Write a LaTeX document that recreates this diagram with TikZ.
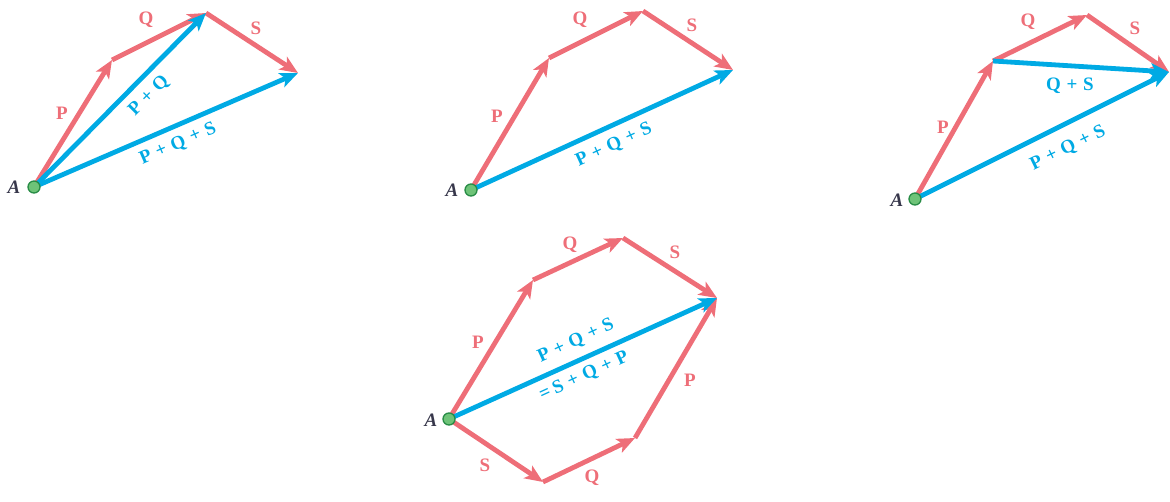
\documentclass[tikz,border=0pt]{standalone}
\usepackage{fontspec}
\setmainfont{Liberation Serif}
\usetikzlibrary{arrows.meta}
\definecolor{vpink}{RGB}{238,110,120}
\definecolor{vblue}{RGB}{0,170,228}
\definecolor{vgreen}{RGB}{110,195,120}
\definecolor{vgreend}{RGB}{40,140,70}
\definecolor{vdark}{RGB}{55,55,75}
\tikzset{
  vec/.style={line width=4.8pt, -{Stealth[length=18pt,width=15pt,inset=4.5pt]}},
  pvec/.style={vec, draw=vpink, fill=vpink},
  bvec/.style={vec, draw=vblue, fill=vblue},
  lbl/.style={font=\bfseries\fontsize{19}{19}\selectfont, inner sep=1pt},
  pl/.style={lbl, text=vpink},
  bl/.style={lbl, text=vblue},
  origin/.style={circle, fill=vgreen, draw=vgreend, line width=1.3pt, minimum size=12pt, inner sep=0pt},
  al/.style={text=vdark, font=\bfseries\itshape\fontsize{19}{19}\selectfont, inner sep=0pt}
}
\newcommand{\pls}{\hspace{0.3em}+\hspace{0.3em}}
\begin{document}
\begin{tikzpicture}[x=1pt,y=-1pt]
\useasboundingbox (0,0) rectangle (1170,502);
% ---------- diagram 1 ----------
\coordinate (A1) at (34,187);
\coordinate (P1) at (112,60);
\coordinate (Q1) at (206,13);
\coordinate (S1) at (298,73);
\draw[pvec] (A1) -- (P1);
\draw[pvec] (P1) -- (Q1);
\draw[pvec] (Q1) -- (S1);
\draw[bvec] (A1) -- (Q1);
\draw[bvec] (A1) -- (S1);
\node[origin] (o1) at (A1) {};
\node[al] (a1) at (14,187) {A};
\node[pl] (lp1) at (62,113) {P};
\node[pl] (lq1) at (146,20) {Q};
\node[pl] (ls1) at (256,28) {S};
\node[bl, rotate=45] (lpq1) at (149,96) {P\pls Q};
\node[bl, rotate=23.5] (lpqs1) at (178,144) {P\pls Q\pls S};
% ---------- diagram 2 ----------
\coordinate (A2) at (471,190);
\coordinate (P2) at (549,58);
\coordinate (Q2) at (643,11);
\coordinate (S2) at (733,70);
\draw[pvec] (A2) -- (P2);
\draw[pvec] (P2) -- (Q2);
\draw[pvec] (Q2) -- (S2);
\draw[bvec] (A2) -- (S2);
\node[origin] (o2) at (A2) {};
\node[al] (a2) at (452,190) {A};
\node[pl] (lp2) at (497,116) {P};
\node[pl] (lq2) at (580,20) {Q};
\node[pl] (ls2) at (692,25) {S};
\node[bl, rotate=24.5] (lpqs2) at (614,145) {P\pls Q\pls S};
% ---------- diagram 3 ----------
\coordinate (A3) at (915,199);
\coordinate (P3) at (993,61);
\coordinate (Q3) at (1087,15);
\coordinate (S3) at (1169,72);
\draw[pvec] (A3) -- (P3);
\draw[pvec] (P3) -- (Q3);
\draw[pvec] (Q3) -- (S3);
\draw[bvec] (P3) -- (S3);
\draw[bvec] (A3) -- (S3);
\node[origin] (o3) at (A3) {};
\node[al] (a3) at (897,200) {A};
\node[pl] (lp3) at (943,127) {P};
\node[pl] (lq3) at (1028,22) {Q};
\node[pl] (ls3) at (1135,28) {S};
\node[bl] (lqs3) at (1070,86) {Q\pls S};
\node[bl, rotate=26] (lpqs3) at (1068,148) {P\pls Q\pls S};
% ---------- diagram 4 ----------
\coordinate (A4) at (449,419);
\coordinate (P4) at (533,280);
\coordinate (Q4) at (623,238);
\coordinate (S4) at (717,298);
\coordinate (L1) at (543,482);
\coordinate (L2) at (635,438);
\draw[pvec] (A4) -- (P4);
\draw[pvec] (P4) -- (Q4);
\draw[pvec] (Q4) -- (S4);
\draw[pvec] (A4) -- (L1);
\draw[pvec] (L1) -- (L2);
\draw[pvec] (L2) -- (S4);
\draw[bvec] (A4) -- (S4);
\node[origin] (o4) at (A4) {};
\node[al] (a4) at (431,420) {A};
\node[pl] (lp4) at (478,342) {P};
\node[pl] (lq4) at (570,245) {Q};
\node[pl] (ls4) at (675,252) {S};
\node[pl] (ls4b) at (485,465) {S};
\node[pl] (lq4b) at (592,478) {Q};
\node[pl] (lp4b) at (690,380) {P};
\node[bl, rotate=24.5] (lpqs4) at (576,341) {P\pls Q\pls S};
\node[bl, rotate=24.5] (lsqp4) at (584,376) {=\hspace{0.2em}S\pls Q\pls P};
\end{tikzpicture}
\end{document}
